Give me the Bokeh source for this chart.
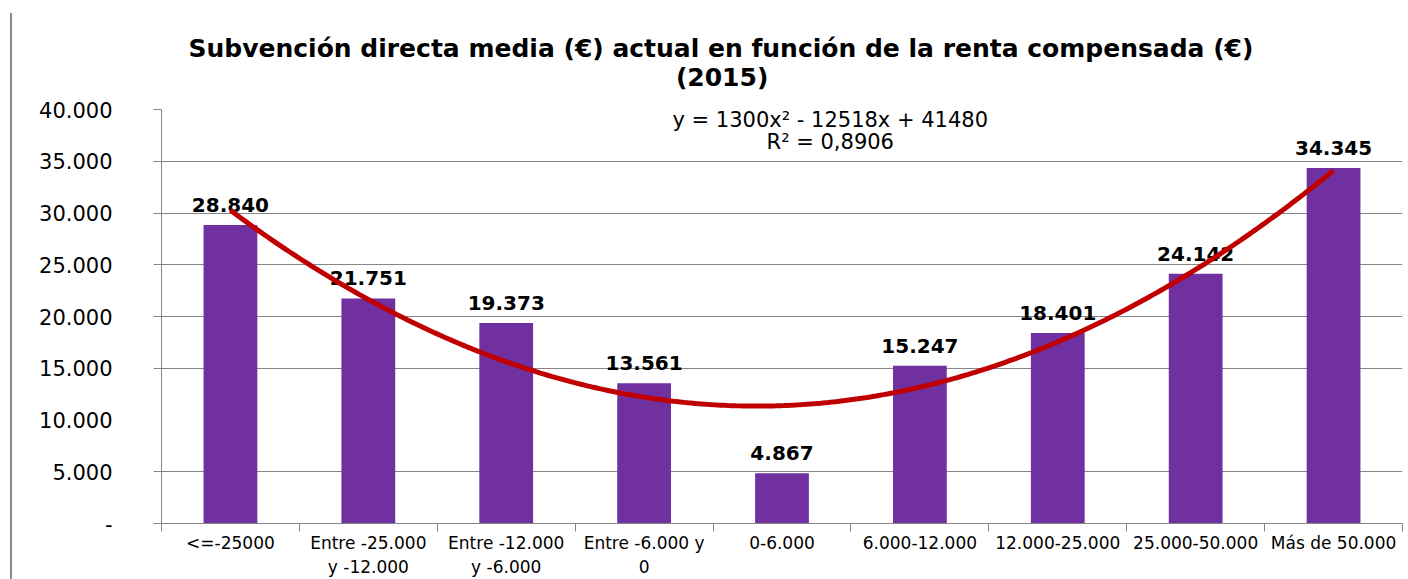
from bokeh.plotting import figure
from bokeh.models import FixedTicker, ColumnDataSource
from bokeh.core.properties import value
from bokeh.embed import file_html
from bokeh.resources import INLINE
import numpy as np

# ---- data ----
categories = ["<=-25000", "Entre -25.000\ny -12.000", "Entre -12.000\ny -6.000",
              "Entre -6.000 y\n0", "0-6.000", "6.000-12.000", "12.000-25.000",
              "25.000-50.000", "Más de 50.000"]
values = [28840, 21751, 19373, 13561, 4867, 15247, 18401, 24142, 34345]
value_labels = ["28.840", "21.751", "19.373", "13.561", "4.867",
                "15.247", "18.401", "24.142", "34.345"]
y_ticks = [0, 5000, 10000, 15000, 20000, 25000, 30000, 35000, 40000]
y_tick_labels = ["-", "5.000", "10.000", "15.000", "20.000",
                 "25.000", "30.000", "35.000", "40.000"]
trend_coef = [1300, -12518, 41480]
trend_text = ["y = 1300x² - 12518x + 41480", "R² = 0,8906"]
title_line1 = "Subvención directa media (€) actual en función de la renta compensada (€)"
title_line2 = "(2015)"

FONT = "DejaVu Sans"
GRAY = "#868686"
PURPLE = "#7030A0"
RED = "#C00000"

xs = list(range(1, len(values) + 1))
src = ColumnDataSource(dict(x=xs, v=values, lab=value_labels))

p = figure(width=1396, height=566, x_range=(0.5, len(values) + 0.5), y_range=(0, 40000),
           output_backend="svg", toolbar_location=None,
           min_border_left=149, min_border_right=6, min_border_top=96, min_border_bottom=55)
p.styles = {"border-left": "2px solid #8a8a8a", "margin-left": "10px", "margin-top": "13px"}
p.outline_line_color = None
p.background_fill_color = "white"

# title: two lines; second line centred under the first with no-break spaces
p.title.text = title_line1 + "\n" + "\u00a0" * 56 + title_line2
p.title.align = "left"
p.title.offset = 27
p.title.text_font = FONT
p.title.text_font_size = "25px"
p.title.text_font_style = "bold"
p.title.text_color = "black"
p.title.text_line_height = 1.0
p.title.standoff = 36

# bars
p.vbar(x="x", top="v", width=0.39, source=src, color=PURPLE, line_color=None)

# value labels
p.text(x="x", y="v", text="lab", source=src, text_align="center", text_baseline="alphabetic",
       y_offset=-20, text_font=value(FONT), text_font_size="20px", text_font_style="bold",
       text_color="black")

# trend line
tx = np.linspace(1, len(values), 300)
ty = trend_coef[0] * tx**2 + trend_coef[1] * tx + trend_coef[2]
p.line(tx, ty, line_color=RED, line_width=5)

# equation
p.text(x=[5.35, 5.35], y=[38940, 36820], text=trend_text, text_align="center",
       text_baseline="middle", text_font=value(FONT), text_font_size="21px", text_color="black")

# x axis
p.xaxis.ticker = FixedTicker(ticks=xs, minor_ticks=[i + 0.5 for i in range(0, len(values) + 1)])
p.xaxis.major_label_overrides = {i: c for i, c in zip(xs, categories)}
p.xaxis.major_tick_out = 0
p.xaxis.major_tick_in = 0
p.xaxis.minor_tick_out = 8
p.xaxis.minor_tick_in = 0
p.xaxis.minor_tick_line_color = GRAY
p.xaxis.axis_line_color = GRAY
p.xaxis.major_label_text_font = FONT
p.xaxis.major_label_text_font_size = "17px"
p.xaxis.major_label_text_color = "black"
p.xaxis.major_label_standoff = 1
p.xgrid.visible = False

# y axis
p.yaxis.ticker = FixedTicker(ticks=y_ticks, minor_ticks=[t for t in y_ticks if t != 10000])
p.yaxis.major_label_overrides = {t: l for t, l in zip(y_ticks, y_tick_labels)}
p.yaxis.major_tick_out = 0
p.yaxis.major_tick_in = 0
p.yaxis.minor_tick_out = 8
p.yaxis.minor_tick_in = 0
p.yaxis.minor_tick_line_color = GRAY
p.yaxis.axis_line_color = GRAY
p.yaxis.major_label_text_font = FONT
p.yaxis.major_label_text_font_size = "21px"
p.yaxis.major_label_text_color = "black"
p.yaxis.major_label_standoff = 41
p.ygrid.ticker = FixedTicker(ticks=[t for t in y_ticks if t not in (0, 10000)])
p.ygrid.grid_line_color = GRAY
p.ygrid.grid_line_width = 1

open("out.html", "w").write(file_html(p, INLINE))
